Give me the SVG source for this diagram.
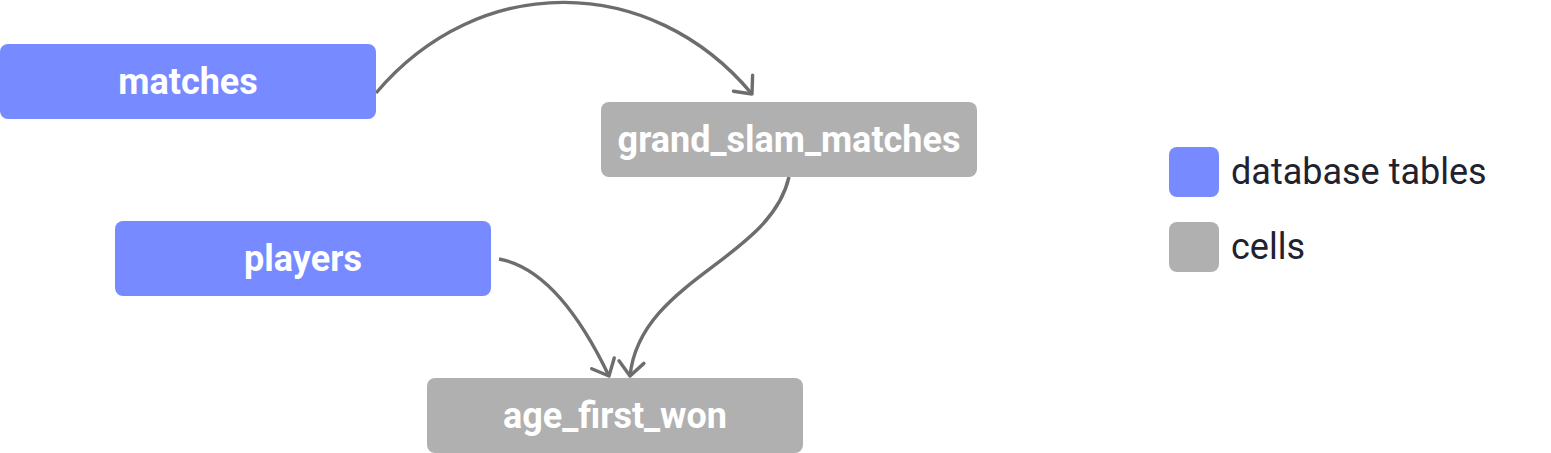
<svg xmlns="http://www.w3.org/2000/svg" width="1551" height="453" viewBox="0 0 1551 453">
<style>
.tbl{fill:#778aff}
.cell{fill:#b0b0b0}
.lbl{font-family:Roboto,"Liberation Sans",sans-serif;font-weight:bold;font-size:36px;fill:#ffffff;text-anchor:middle}
.leg{font-family:Roboto,"Liberation Sans",sans-serif;font-size:36px;fill:#22212e}
.edge{fill:none;stroke:#6d6d6d;stroke-width:3.4;marker-end:url(#arr)}
</style>
<defs>
<marker id="arr" markerUnits="userSpaceOnUse" markerWidth="40" markerHeight="40" viewBox="-20 -20 40 40" refX="0" refY="0" orient="auto" overflow="visible">
<path d="M-14,-12.5 L0,0 L-14,12.5" fill="none" stroke="#6d6d6d" stroke-width="3.4" stroke-linecap="round" stroke-linejoin="round"/>
</marker>
</defs>
<rect width="1551" height="453" fill="#ffffff"/>
<g id="connectors">
<path class="edge" d="M376,93 C478,-28 650,-28 752,94"/>
<path class="edge" d="M789,177 C770,260 640,280 630,376"/>
<path class="edge" d="M499,259 C538,266 575,305 609,376"/>
</g>
<g id="matches">
<rect class="tbl" x="0" y="44" width="376" height="75" rx="8"/>
<text class="lbl" x="188" y="94">matches</text>
</g>
<g id="players">
<rect class="tbl" x="115" y="221" width="376" height="75" rx="8"/>
<text class="lbl" x="303" y="271">players</text>
</g>
<g id="grand_slam_matches">
<rect class="cell" x="601" y="102" width="376" height="75" rx="8"/>
<text class="lbl" x="789" y="152">grand_slam_matches</text>
</g>
<g id="age_first_won">
<rect class="cell" x="427" y="378" width="376" height="75" rx="8"/>
<text class="lbl" x="615" y="428">age_first_won</text>
</g>
<g id="legend">
<rect class="tbl" x="1169" y="147" width="50" height="50" rx="8"/>
<text class="leg" x="1231" y="184">database tables</text>
<rect class="cell" x="1169" y="222" width="50" height="50" rx="8"/>
<text class="leg" x="1231" y="259">cells</text>
</g>
</svg>
